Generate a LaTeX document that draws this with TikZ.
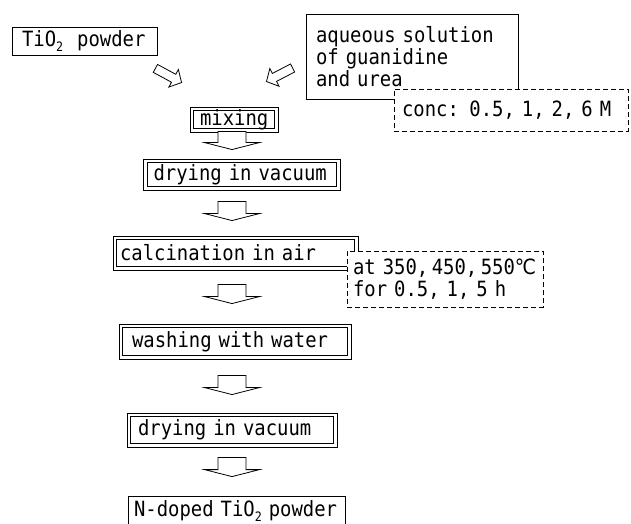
\documentclass[tikz,border=0pt]{standalone}
\usepackage{fontspec}
\usetikzlibrary{calc}

\newfontfamily\gothic{DejaVu Sans Mono}[FakeStretch=0.9]
\newfontfamily\degfont{DejaVu Sans}[FakeStretch=0.9]
\newcommand\subtwo{\raisebox{-0.45ex}{\fontsize{13}{13}\selectfont 2}}

\begin{document}
\begin{tikzpicture}[
            x=1pt, y=-1pt,
            every node/.style={font=\gothic\fontsize{21}{22}\selectfont},
            plainbox/.style={
                draw,
                fill=white,
                line width=0.8pt,
                align=left,
                inner xsep=10pt,
                inner ysep=0pt
            },
            procbox/.style={
                plainbox,
                line width=0.9pt,
                path picture={
                    \draw[line width=0.7pt]
                        ([shift={(3.8pt,-3.8pt)}]path picture bounding box.north west)
                        rectangle ([shift={(-3.8pt,3.8pt)}]path picture bounding box.south east);
                }
            },
            notebox/.style={
                plainbox,
                dash pattern=on 5pt off 3pt,
                inner xsep=8pt
            },
            hollow/.style n args={3}{
                draw,
                fill=white,
                line width=0.8pt,
                to path={
                    let \p1=(\tikztostart), \p2=(\tikztotarget),
                        \n1={atan2(\y2-\y1,\x2-\x1)},
                        \n2={veclen(\x2-\x1,\y2-\y1)} in
                    {[shift={(\p1)}, rotate=\n1]
                        (0,-#1) -- ({\n2-#3},-#1) -- ({\n2-#3},-#2) -- (\n2,0)
                        -- ({\n2-#3},#2) -- ({\n2-#3},#1) -- (0,#1) -- cycle}
                }
            }
        ]

            \useasboundingbox (0,0) rectangle (631,524);

            \node[plainbox, text width=125pt, minimum height=28pt] (tio) at (84.5,41)
                {\mbox{TiO\subtwo~~powder}};
            \node[plainbox, text width=192pt, minimum height=85pt] (aq) at (412,56.5)
                {aqueous solution\\of guanidine\\and urea};
            \node[notebox, text width=218pt, minimum height=42pt] (conc) at (511,110)
                {\mbox{conc: 0.5, 1, 2, 6 M}};

            \node[procbox, text width=68pt, minimum height=25pt] (mix) at (234,119.5) {mixing};
            \node[procbox, text width=177pt, minimum height=31pt] (dry1) at (242,174.5) {drying in vacuum};
            \node[procbox, inner xsep=7pt, text width=231pt, minimum height=34pt] (calc) at (235.5,253)
                {calcination in air};
            \node[notebox, inner xsep=6pt, text width=184pt, minimum height=56pt] (heat) at (445,279)
                {\mbox{at 350,\,450,\,550{\degfont ℃}}\\\mbox{for 0.5, 1, 5 h}};
            \node[procbox, inner xsep=13pt, text width=206pt, minimum height=35pt] (wash) at (235,341.5)
                {washing with water};
            \node[procbox, inner xsep=11pt, text width=188pt, minimum height=34pt] (dry2) at (232,430) {drying in vacuum};
            \node[plainbox, inner xsep=6pt, text width=205pt, minimum height=30pt] (prod) at (236.5,511)
                {\mbox{N-doped TiO\subtwo{} powder}};

            \coordinate (axis) at (232,0);

            \draw[hollow={4.5}{10}{9}] ($(tio.south east)+(-2,13)$) to ($(mix.north west)+(-8,-24)$);
            \draw[hollow={4.5}{10}{9}] ($(aq.west)+(-13,11.5)$) to ($(mix.north east)+(-12,-25)$);

            \draw[hollow={14}{27.5}{7}] ($(mix.south -| axis)+(0,-1)$) to ($(dry1.north -| axis)+(0,-9)$);
            \draw[hollow={14}{27.5}{7}] ($(dry1.south -| axis)+(0,11)$) to ($(calc.north -| axis)+(0,-15)$);
            \draw[hollow={14}{27.5}{7}] ($(calc.south -| axis)+(0,14)$) to ($(wash.north -| axis)+(0,-20)$);
            \draw[hollow={14}{27.5}{7}] ($(wash.south -| axis)+(0,16)$) to ($(dry2.north -| axis)+(0,-18)$);
            \draw[hollow={14}{27.5}{7}] ($(dry2.south -| axis)+(0,10)$) to ($(prod.north -| axis)+(0,-19)$);

        \end{tikzpicture}
\end{document}
